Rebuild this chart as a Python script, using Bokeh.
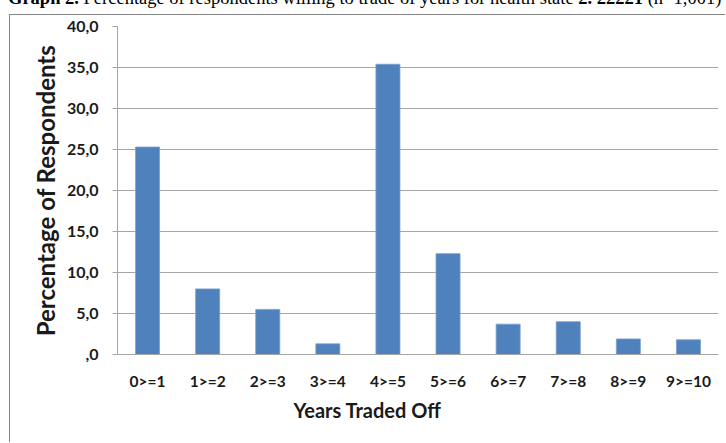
from bokeh.plotting import figure
from bokeh.layouts import column
from bokeh.models import FactorRange, Range1d, Title, Div, FixedTicker, CustomJSTickFormatter, ColumnDataSource
from bokeh.embed import file_html
from bokeh.resources import INLINE

categories = ["0>=1", "1>=2", "2>=3", "3>=4", "4>=5", "5>=6", "6>=7", "7>=8", "8>=9", "9>=10"]
percentages = [25.3, 8.0, 5.5, 1.3, 35.4, 12.3, 3.7, 4.0, 1.9, 1.8]
y_ticks = [0, 5, 10, 15, 20, 25, 30, 35, 40]
title_bold_1 = "Graph 2."
title_text_1 = " Percentage of respondents willing to trade of years for health state "
title_bold_2 = "2. 22221"
title_text_2 = " (n=1,001)"
x_title = "Years Traded Off"
y_title = "Percentage of Respondents"

FONT = "Lato"
TXT = "#1a1a1a"

# caption strip above the chart box (only its lower part is visible, as in the reference)
caption_html = (
    '<div style="position:relative; top:-11.5px; left:8px; white-space:nowrap; '
    'font-family:\'Liberation Serif\'; font-size:18.5px; line-height:18.5px; color:black;">'
    f'<b>{title_bold_1}</b>{title_text_1}<b>{title_bold_2}</b>{title_text_2}</div>'
)
caption = Div(text=caption_html, width=726, height=14,
              styles={"overflow": "hidden", "margin": "0", "padding": "0"})

# main chart
p = figure(width=716, height=428, x_range=FactorRange(*categories), y_range=Range1d(0, 40),
           output_backend="svg", toolbar_location=None,
           min_border_left=107, min_border_right=8, min_border_top=11, min_border_bottom=89)
p.frame_align = False
p.margin = (0, 0, 0, 9)
p.styles = {"border-left": "1px solid #868686", "border-top": "1px solid #868686"}

src = ColumnDataSource(dict(cat=categories, val=percentages))
p.vbar(x="cat", top="val", width=0.4, source=src, fill_color="#4f81bd", line_color="#7a9fd0", line_width=0.8)

p.outline_line_color = None
p.background_fill_color = "white"
p.border_fill_color = "white"
p.xgrid.grid_line_color = None
p.ygrid.grid_line_color = "#a6a6a6"
p.ygrid.grid_line_width = 1

p.yaxis.ticker = FixedTicker(ticks=y_ticks)
p.yaxis.formatter = CustomJSTickFormatter(code="""
const s = tick.toFixed(1).replace('.', ',');
return s.startsWith('0,') ? s.slice(1) : s;
""")
p.yaxis.axis_line_color = "#a6a6a6"
p.yaxis.major_tick_line_color = "#a6a6a6"
p.yaxis.major_tick_out = 5
p.yaxis.major_tick_in = 0
p.yaxis.minor_tick_line_color = None
p.yaxis.major_label_text_font = FONT
p.yaxis.major_label_text_font_style = "bold"
p.yaxis.major_label_text_font_size = "16px"
p.yaxis.major_label_text_color = TXT
p.yaxis.major_label_standoff = 14
p.yaxis.axis_label = y_title
p.yaxis.axis_label_text_font = FONT
p.yaxis.axis_label_text_font_style = "bold"
p.yaxis.axis_label_text_font_size = "24px"
p.yaxis.axis_label_text_color = TXT
p.yaxis.axis_label_standoff = 4

p.xaxis.axis_line_color = "#a6a6a6"
p.xaxis.major_tick_line_color = None
p.xaxis.minor_tick_line_color = None
p.xaxis.major_label_text_font = FONT
p.xaxis.major_label_text_font_style = "bold"
p.xaxis.major_label_text_font_size = "15.5px"
p.xaxis.major_label_text_color = TXT
p.xaxis.major_label_standoff = 11

xt = Title(text=x_title, align="left", offset=176, standoff=7,
           text_font=FONT, text_font_style="bold", text_font_size="20px", text_color=TXT)
p.add_layout(xt, "below")

layout = column(caption, p, spacing=0)
open("out.html", "w").write(file_html(layout, INLINE))
